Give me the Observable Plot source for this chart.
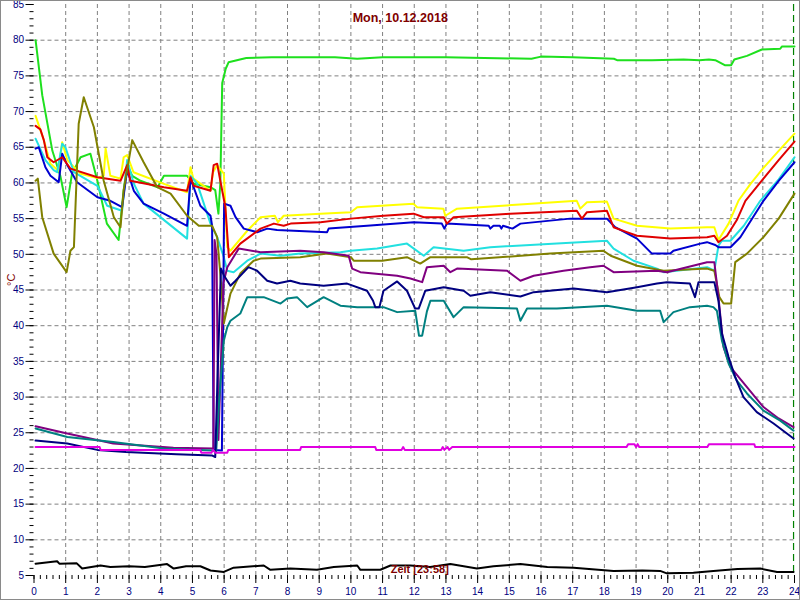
<!DOCTYPE html>
<html>
<head>
<meta charset="utf-8">
<script src="https://cdn.jsdelivr.net/npm/d3@7"></script>
<script src="https://cdn.jsdelivr.net/npm/@observablehq/plot@0.6"></script>
<style>
  html, body { margin: 0; padding: 0; background: #fff; }
  svg { display: block; outline: 2px solid #8a8a8a; outline-offset: -1px; }
</style>
</head>
<body>
<div id="chart"></div>
<script>
// ---- Data: [hour, °C] ----
const titleText = ["Mon, 10.12.2018"];
const timeText = ["Zeit [23:58]"];
const unitText = ["°C"];
const xMajorTicks = d3.range(0, 25, 1);
const xMinorTicks = d3.range(0, 24.01, 0.2);
const yMajorTicks = d3.range(5, 86, 5);
const yMinorTicks = d3.range(5, 86, 1);
const nowMarker = [23.97];

const green = [[0.05,80],[0.26,72.3],[0.58,64.5],[0.83,61],[1.03,56.6],[1.2,61.3],[1.47,63.6],[1.78,64.1],[2.0,60.3],[2.3,54.3],[2.67,52],[2.83,59],[2.94,62.5],[3.1,61],[3.36,60.3],[3.9,59.4],[4.1,61],[4.83,61],[5.04,59.9],[5.57,59.4],[5.72,59],[5.82,55.7],[5.88,60],[5.94,74],[6.05,76],[6.14,76.9],[6.5,77.3],[6.7,77.5],[7.5,77.6],[8.0,77.6],[9.5,77.6],[10.2,77.4],[11.0,77.6],[13.0,77.6],[15.7,77.4],[16.0,77.7],[17.0,77.6],[18.3,77.4],[18.4,77.2],[19.5,77.2],[20.5,77.3],[21.0,77.2],[21.3,77.3],[21.5,77.2],[21.8,76.5],[22.0,76.5],[22.1,77.3],[22.5,77.8],[22.97,78.7],[23.55,78.8],[23.6,79.1],[24.0,79.1]];

const yellow = [[0.05,69.4],[0.31,66],[0.52,62.7],[0.77,61.7],[0.89,65.7],[1.05,63.2],[1.47,61.3],[2.0,60.7],[2.2,61],[2.26,64.8],[2.41,61],[2.73,60.6],[2.83,63.6],[2.94,63.9],[3.14,61.5],[4.08,59.9],[4.83,58.7],[4.94,62.2],[5.03,60.6],[5.57,58.9],[5.65,61.5],[5.78,62.5],[5.99,61.3],[6.1,51],[6.2,50.5],[6.73,53.3],[7.15,55.2],[7.6,55.4],[7.7,54.5],[7.88,55.4],[9.04,55.7],[10.0,55.9],[10.2,56.6],[11.97,57.1],[12.09,56.6],[12.92,56.4],[12.98,55.4],[13.35,56.4],[15.45,57],[17.13,57.5],[17.24,56.4],[17.45,57.3],[18.08,57.4],[18.29,55],[19.03,54],[20.08,53.6],[21.24,53.8],[21.47,53.8],[21.6,52],[21.92,54.3],[22.23,57.5],[22.6,59.8],[23.0,62],[23.5,64.5],[24.0,66.9]];

const red = [[0.05,68],[0.2,67.5],[0.31,66],[0.42,63.6],[0.62,62.9],[0.89,63.6],[1.15,62],[2.0,60.8],[2.73,60.3],[2.94,62.5],[3.04,60.3],[4.1,59.4],[4.83,58.9],[4.94,60.8],[5.04,59.6],[5.57,58.9],[5.67,62.5],[5.78,62.7],[5.88,60.3],[6.04,56.6],[6.15,49.6],[6.51,51.5],[7.15,53.6],[7.57,54.3],[7.88,54],[8.1,54.3],[9.04,54.5],[10.0,55],[11.03,55.4],[11.98,55.7],[12.3,55.2],[12.93,55.2],[13.03,54.3],[13.24,55.2],[15.03,55.7],[17.13,56.1],[17.29,55],[17.45,55.9],[18.08,56.1],[18.29,53.8],[18.71,53.1],[19.03,52.6],[20.08,52.2],[21.24,52.4],[21.47,52.6],[21.6,51.7],[21.87,52.6],[22.18,54.8],[22.45,57.5],[23.0,60.5],[23.5,63.2],[24.0,65.8]];

const cyan = [[0.05,66.2],[0.36,63.2],[0.62,61.8],[0.73,61.5],[0.89,65.5],[0.99,65],[1.26,61.5],[2.0,59.6],[2.31,56.8],[2.78,56.1],[2.94,63.2],[3.15,59.9],[3.46,57.1],[4.83,52.2],[4.94,61],[5.15,59.9],[5.57,54.3],[5.78,52.4],[5.99,49.6],[6.1,47.7],[6.3,47.5],[6.73,49.1],[7.15,50.1],[7.78,49.8],[8.4,50.1],[9.67,50.3],[9.99,50.5],[10.83,50.8],[11.77,51.5],[12.3,49.8],[12.61,51],[13.56,50.5],[14.4,51],[16.5,51.5],[18.08,51.9],[18.29,50.8],[18.92,49.1],[19.66,48],[19.87,47.5],[21.24,48.2],[21.47,47.7],[21.6,51.2],[21.71,51.9],[21.98,51.9],[22.4,54],[22.92,57.5],[23.5,60.5],[24.0,63.6]];

const blue = [[0.05,64.8],[0.15,65],[0.36,62.2],[0.52,61],[0.78,60.1],[0.89,64.1],[1.05,62.5],[1.36,60.1],[2.0,58],[2.41,57.5],[2.78,56.6],[2.94,61.8],[3.15,58.9],[3.46,57.1],[4.1,55.7],[4.83,54],[4.94,60.6],[5.25,56.8],[5.57,55.4],[5.62,54],[5.67,22.6],[5.93,22.5],[6.0,57.1],[6.2,56.8],[6.36,55.2],[6.62,53.6],[7.04,53.1],[7.36,53.6],[7.67,53.4],[9.25,53.1],[9.3,53.6],[10.51,54],[11.98,54.5],[12.87,54.3],[12.95,53.6],[13.03,54.3],[14.35,54],[14.4,53.6],[14.5,54],[14.7,54],[14.75,53.6],[14.8,54],[15.1,53.6],[15.35,54.3],[16.92,55],[18.08,55],[18.34,53.8],[19.03,52.2],[19.5,50.1],[20.08,50.1],[20.18,50.5],[21.03,51.5],[21.24,51.7],[21.5,51.3],[21.6,51],[21.98,51],[22.29,52.4],[23.02,57.5],[23.5,60.3],[24.0,62.9]];

const olive = [[0.05,60.3],[0.12,60.6],[0.26,55.2],[0.62,50.1],[1.03,47.5],[1.15,50.5],[1.26,51],[1.41,68.3],[1.57,72],[1.89,67.8],[2.2,60.3],[2.52,55.2],[2.73,53.8],[2.83,59],[3.1,66],[3.46,62.9],[3.89,59.4],[4.31,58.5],[4.83,55.4],[5.2,54],[5.62,54],[5.78,52.4],[5.88,47.3],[5.99,40.3],[6.2,44.5],[6.51,47.3],[6.93,49.1],[7.15,49.4],[8.4,49.6],[9.25,50.1],[10.0,49.6],[10.09,49.1],[10.99,49.1],[11.77,49.6],[12.19,48.7],[12.51,49.6],[13.66,49.6],[13.8,49.3],[16.29,50.1],[17.97,50.5],[18.2,49.8],[19.03,48.4],[19.87,47.7],[21.24,48],[21.47,47.7],[21.63,44],[21.76,43.1],[22.0,43.1],[22.13,48.9],[22.5,50.1],[23.02,52.4],[23.5,55],[24.0,58.5]];

const purple = [[0.05,25.9],[1.05,24.9],[2.5,23.5],[4.4,22.9],[5.66,22.8],[5.7,52],[5.76,50],[5.82,24],[5.9,35],[5.98,46],[6.1,48.2],[6.46,50.8],[7.15,50.3],[8.4,50.5],[9.14,50.3],[9.93,49.8],[10.04,48],[10.3,47.5],[11.46,47],[11.88,46.6],[12.25,46.1],[12.4,48.2],[12.93,48.4],[13.14,47.5],[13.35,48],[14.93,47.7],[15.35,46.3],[15.77,47],[16.71,47.7],[17.55,48.2],[17.97,48.4],[18.29,47.5],[19.66,47.7],[19.97,47.5],[21.24,48.9],[21.47,48.9],[21.6,44],[21.76,37],[21.98,34.2],[22.5,31.4],[23.02,28.6],[23.5,27],[23.97,25.8]];

const navy = [[0.05,23.9],[1.05,23.5],[2.0,22.6],[2.9,22.3],[4.5,22.0],[5.63,21.8],[5.72,21.6],[5.8,34],[5.9,48],[6.0,47],[6.2,45.6],[6.36,46.3],[6.77,48.2],[7.04,47.7],[7.36,46.3],[7.67,45.9],[8.09,46.3],[8.4,45.9],[9.14,45.6],[9.88,45.9],[10.51,44.9],[10.7,43.5],[10.77,42.6],[10.9,42.6],[11.03,44.9],[11.46,46.2],[11.77,44.9],[12.03,42.4],[12.14,42.4],[12.35,44.9],[12.93,45.4],[13.56,44.9],[13.77,44.2],[14.4,44.7],[15.35,44.1],[15.77,44.7],[17.03,45.2],[18.08,44.7],[19.03,45.4],[19.66,45.9],[19.97,46.1],[20.7,45.9],[20.86,44],[20.97,46.1],[21.47,46.1],[21.6,43.5],[21.71,38.9],[21.92,35.6],[22.13,32.8],[22.39,30],[22.81,27.9],[23.34,26.3],[23.97,24.2]];

const teal = [[0.05,25.6],[1.05,24.4],[2.5,23.7],[4.1,22.8],[5.63,22.5],[5.75,22.4],[5.85,30],[5.99,37.9],[6.1,39.8],[6.2,40.7],[6.51,41.7],[6.73,44],[7.25,44],[7.78,43.1],[7.99,43.8],[8.3,44],[8.62,42.6],[9.14,44],[9.67,42.8],[10.2,42.6],[11.03,42.6],[11.46,41.9],[12.03,42.1],[12.15,38.6],[12.25,38.6],[12.4,42],[12.51,43.5],[12.93,43.5],[13.24,41.2],[13.56,42.6],[15.24,42.4],[15.35,40.7],[15.56,42.4],[16.5,42.4],[18.08,42.8],[19.03,42.1],[19.76,42.1],[19.87,40.5],[20.18,41.9],[20.7,42.6],[21.24,42.8],[21.44,42.6],[21.55,42.1],[21.71,37.9],[21.92,34.7],[22.18,32.3],[22.5,30.5],[23.02,28.1],[23.55,26.7],[23.97,25.3]];

const magenta = [[0.05,23],[2.07,23],[2.1,22.6],[5.25,22.6],[5.28,22.2],[5.6,22.2],[5.65,22.6],[5.72,22.2],[6.1,22.2],[6.13,22.6],[8.4,22.6],[8.43,23],[10.77,23],[10.8,22.6],[11.6,22.6],[11.65,23],[11.7,22.6],[12.85,22.6],[12.9,23],[12.95,22.6],[13.05,23],[13.1,22.6],[13.2,23],[18.7,23],[18.75,23.4],[18.95,23.4],[19.0,23],[19.05,23.4],[19.1,23],[21.25,23],[21.3,23.4],[22.73,23.4],[22.76,23],[24.0,23]];

const black = [[0.05,6.66],[0.52,6.9],[0.73,7.0],[0.8,6.66],[1.35,6.7],[1.52,5.97],[2.1,6.4],[2.41,6.2],[3.0,6.3],[3.5,6.2],[4.2,6.6],[4.41,5.97],[4.8,6.3],[5.25,6.3],[5.57,5.7],[5.99,5.5],[6.3,6.1],[7.25,6.4],[7.46,5.8],[8.09,5.97],[8.93,5.8],[9.46,6.2],[10.2,6.4],[10.3,5.8],[10.93,5.8],[11.25,6.4],[11.88,6.4],[12.5,6.2],[13.14,6.6],[13.98,5.97],[14.5,6.3],[15.35,6.6],[16.2,6.2],[17.03,6.1],[18.29,5.64],[19.2,5.7],[19.76,5.64],[19.97,5.3],[20.81,5.4],[21.44,5.64],[22.2,5.9],[22.92,5.97],[23.45,5.5],[23.97,5.5]];

const seriesList = [
  [green, "#1ee01e"],
  [yellow, "#ffff00"],
  [cyan, "#22e0e0"],
  [blue, "#0000d0"],
  [red, "#e00000"],
  [olive, "#808000"],
  [purple, "#800080"],
  [teal, "#008080"],
  [navy, "#000080"],
  [magenta, "#e000e0"],
  [black, "#000000"]
];

const darkRed = "#800000";
const tickBlue = "#000080";

const lineMarks = seriesList.map(([data, color]) =>
  Plot.line(data, {x: d => d[0], y: d => d[1], stroke: color, strokeWidth: 2})
);

const chart = Plot.plot({
  width: 800,
  height: 600,
  marginLeft: 33.5,
  marginRight: 6,
  marginTop: 4,
  marginBottom: 25,
  style: {fontFamily: "Liberation Sans, Arial, sans-serif", fontSize: "10px", background: "#fff", color: "black"},
  x: {domain: [0, 24]},
  y: {domain: [5, 85]},
  marks: [
    Plot.gridY(d3.range(10, 81, 5), {stroke: "#808080", strokeOpacity: 1, strokeDasharray: "4,3"}),
    Plot.gridX(d3.range(1, 24, 1), {stroke: "#808080", strokeOpacity: 1, strokeDasharray: "4,3"}),
    Plot.ruleX(nowMarker, {stroke: "#008000", strokeDasharray: "7,4", strokeWidth: 1.2}),
    ...lineMarks,
    Plot.axisY(yMajorTicks, {tickSize: 8, tickPadding: 2, stroke: "black", fill: tickBlue, fontSize: 10, label: null}),
    Plot.axisY(yMinorTicks, {tickSize: 4, text: null, stroke: "black", label: null}),
    Plot.axisX(xMajorTicks, {tickSize: 8, tickPadding: 4, stroke: "black", fill: tickBlue, fontSize: 10, label: null}),
    Plot.axisX(xMinorTicks, {tickSize: 4, text: null, stroke: "black", label: null}),
    Plot.text(titleText, {text: d => d, frameAnchor: "top", dx: -14, dy: 13, lineAnchor: "middle", fill: darkRed, fontWeight: "bold", fontSize: 12.5}),
    Plot.text(timeText, {text: d => d, frameAnchor: "bottom", dx: 5.5, dy: -6, lineAnchor: "middle", fill: darkRed, fontWeight: "bold", fontSize: 11}),
    Plot.text(unitText, {text: d => d, frameAnchor: "left", dx: -23, dy: -4, rotate: -90, fill: darkRed, fontSize: 11})
  ]
});
document.getElementById("chart").appendChild(chart);
</script>
</body>
</html>
